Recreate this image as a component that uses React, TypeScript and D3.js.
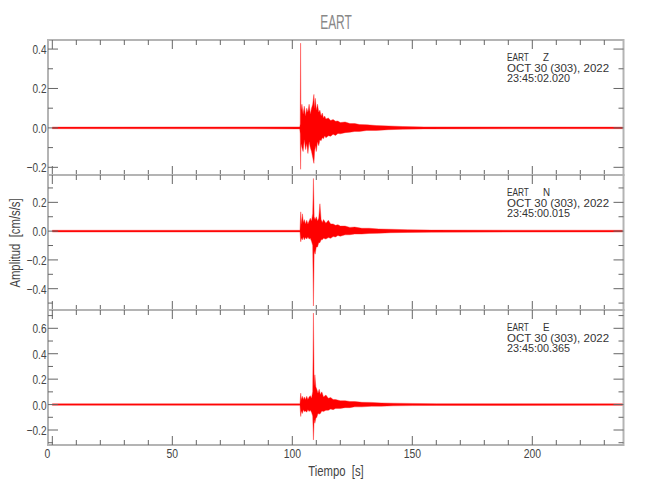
import React from "react";
import * as d3 from "d3";

// ---- data ----
const title = "EART";
const station = "EART";
const components = ["Z", "N", "E"];
const dateLabel = "OCT 30 (303), 2022";
const startTimes = ["23:45:02.020", "23:45:00.015", "23:45:00.365"];
const xTicks = d3.range(0, 231, 10);
const xMajor = [0, 50, 100, 150, 200];
const yDomains: [number, number][] = [
  [-0.239, 0.446],
  [-0.548, 0.39],
  [-0.318, 0.744],
];
const xDomain: [number, number] = [-1.8, 238];

// envelopes: [time s, upper amplitude, lower amplitude]
const zEnvelope: [number, number, number][] = [
  [0, 0.004, -0.004], [103.1, 0.005, -0.005], [103.3, 0.02, -0.03], [103.45, 0.43, -0.21],
  [103.6, 0.09, -0.08], [104.0, 0.12, -0.1], [104.5, 0.07, -0.12], [105.0, 0.11, -0.06],
  [105.5, 0.06, -0.11], [106.0, 0.1, -0.08], [106.5, 0.08, -0.13], [107.0, 0.12, -0.07],
  [107.5, 0.07, -0.1], [108.0, 0.1, -0.12], [108.5, 0.12, -0.15], [109.0, 0.17, -0.18],
  [109.3, 0.1, -0.12], [109.6, 0.15, -0.09], [110.0, 0.09, -0.12], [110.5, 0.12, -0.07],
  [111.0, 0.08, -0.09], [111.5, 0.09, -0.06], [112.0, 0.06, -0.065], [112.5, 0.075, -0.05],
  [113.0, 0.05, -0.055], [113.5, 0.06, -0.04], [114.0, 0.045, -0.05], [115.0, 0.05, -0.04],
  [116.0, 0.038, -0.042], [117.0, 0.042, -0.032], [118.0, 0.034, -0.038], [119.0, 0.035, -0.028],
  [120.0, 0.027, -0.03], [122.0, 0.03, -0.024], [124.0, 0.022, -0.022], [126.0, 0.022, -0.018],
  [128.0, 0.017, -0.018], [131.0, 0.016, -0.013], [135.0, 0.012, -0.013], [140.0, 0.01, -0.009],
  [146.0, 0.007, -0.007], [155.0, 0.005, -0.005], [238, 0.004, -0.004],
];
const nEnvelope: [number, number, number][] = [
  [0, 0.006, -0.006], [103.2, 0.006, -0.006], [103.5, 0.134, -0.074], [103.8, 0.05, -0.05],
  [104.2, 0.12, -0.06], [104.6, 0.06, -0.04], [105.0, 0.08, -0.06], [105.5, 0.05, -0.045],
  [106.0, 0.075, -0.055], [106.5, 0.05, -0.04], [107.0, 0.07, -0.055], [107.5, 0.09, -0.05],
  [108.0, 0.07, -0.07], [108.5, 0.12, -0.1], [108.8, 0.366, -0.52], [109.1, 0.1, -0.14],
  [109.5, 0.08, -0.16], [110.0, 0.1, -0.11], [110.5, 0.07, -0.11], [111.0, 0.09, -0.08],
  [111.5, 0.19, -0.08], [112.0, 0.08, -0.06], [112.5, 0.06, -0.06], [113.0, 0.08, -0.05],
  [114.0, 0.055, -0.055], [115.0, 0.075, -0.045], [116.0, 0.05, -0.05], [117.0, 0.05, -0.038],
  [118.0, 0.04, -0.04], [119.0, 0.045, -0.03], [120.0, 0.035, -0.035], [122.0, 0.035, -0.026],
  [124.0, 0.026, -0.025], [126.0, 0.028, -0.02], [129.0, 0.02, -0.02], [132.0, 0.02, -0.016],
  [136.0, 0.015, -0.015], [141.0, 0.013, -0.011], [148.0, 0.01, -0.009], [158.0, 0.007, -0.007],
  [238, 0.006, -0.006],
];
const eEnvelope: [number, number, number][] = [
  [0, 0.006, -0.006], [103.2, 0.006, -0.006], [103.5, 0.09, -0.094], [103.8, 0.04, -0.05],
  [104.2, 0.065, -0.07], [104.6, 0.04, -0.04], [105.0, 0.06, -0.055], [105.5, 0.04, -0.05],
  [106.0, 0.065, -0.06], [106.5, 0.04, -0.04], [107.0, 0.06, -0.055], [107.5, 0.07, -0.045],
  [108.0, 0.05, -0.06], [108.5, 0.1, -0.09], [108.8, 0.72, -0.278], [109.1, 0.15, -0.12],
  [109.4, 0.234, -0.147], [109.8, 0.14, -0.11], [110.2, 0.12, -0.1], [110.7, 0.09, -0.07],
  [111.2, 0.12, -0.075], [111.7, 0.08, -0.07], [112.3, 0.1, -0.05], [113.0, 0.06, -0.055],
  [114.0, 0.075, -0.045], [115.0, 0.05, -0.045], [116.0, 0.055, -0.035], [117.0, 0.04, -0.04],
  [118.0, 0.04, -0.03], [120.0, 0.03, -0.03], [122.0, 0.03, -0.024], [124.0, 0.024, -0.024],
  [126.0, 0.024, -0.018], [129.0, 0.018, -0.018], [133.0, 0.017, -0.013], [137.0, 0.013, -0.013],
  [142.0, 0.011, -0.01], [150.0, 0.009, -0.008], [160.0, 0.007, -0.007], [238, 0.006, -0.006],
];
const envelopes = [zEnvelope, nEnvelope, eEnvelope];

// ---- layout ----
const W = 650;
const H = 500;
const left = 48;
const right = 623.5;
const panelTop = 40;
const panelH = 135;
const FONT = "'Liberation Sans', Arial, sans-serif";

function T({ x, y, s, size, sx = 0.75, anchor = "start", color = "#444", rotate = 0 }: any) {
  return (
    <g transform={`translate(${x},${y}) rotate(${rotate}) scale(${sx},1)`}>
      <text fontFamily={FONT} fontSize={size} fill={color} textAnchor={anchor} style={{ whiteSpace: "pre" }}>
        {s}
      </text>
    </g>
  );
}

export default function App() {
  const x = d3.scaleLinear().domain(xDomain).range([left, right]);
  const frame = "#b4b4b4";
  const tickC = "#666";

  return (
    <svg width={W} height={H} style={{ position: "absolute", left: 0, top: 0, background: "#fff" }}>
      <rect width={W} height={H} fill="#fff" />
      <T x={336} y={29} s={title} size={21} sx={0.57} anchor="middle" color="#888" />
      {envelopes.map((env, i) => {
        const top = panelTop + i * panelH;
        const bottom = top + panelH;
        const y = d3.scaleLinear().domain(yDomains[i]).range([bottom, top]);
        const area = d3
          .area<[number, number, number]>()
          .x((d) => x(d[0]))
          .y0((d) => y(d[2]))
          .y1((d) => y(d[1]));
        const [y0, y1] = yDomains[i];
        const yMinor = d3.range(Math.ceil(y0 * 10), Math.floor(y1 * 10) + 1).map((v) => v / 10);
        return (
          <g key={i}>
            <path d={area(env) || ""} fill="#ff0000" stroke="#ff2020" strokeWidth={0.4} />
            {/* frame */}
            <rect x={left} y={top} width={right - left} height={panelH} fill="none" stroke={frame} strokeWidth={2} />
            {/* x ticks top and bottom */}
            {xTicks.map((t) => {
              const len = xMajor.includes(t) ? 9 : 5;
              return (
                <g key={t}>
                  <line x1={x(t)} x2={x(t)} y1={top} y2={top + len} stroke={tickC} strokeWidth={1} />
                  <line x1={x(t)} x2={x(t)} y1={bottom} y2={bottom - len} stroke={tickC} strokeWidth={1} />
                </g>
              );
            })}
            {/* y ticks left and right */}
            {yMinor.map((v) => {
              const major = Math.round(v * 10) % 2 === 0;
              const len = major ? 10 : 5;
              return (
                <g key={v}>
                  <line x1={left} x2={left + len} y1={y(v)} y2={y(v)} stroke={tickC} strokeWidth={1} />
                  <line x1={right} x2={right - len} y1={y(v)} y2={y(v)} stroke={tickC} strokeWidth={1} />
                  {major && (
                    <T
                      x={46.5}
                      y={y(v) + 5}
                      s={v < 0 ? `\u2212${Math.abs(v).toFixed(1)}` : v.toFixed(1)}
                      size={13.5}
                      sx={0.745}
                      anchor="end"
                    />
                  )}
                </g>
              );
            })}
            {/* annotation */}
            <T x={507} y={top + 20.7} s={station} size={11.5} sx={0.72} color="#333" />
            <T x={543} y={top + 20.7} s={components[i]} size={11.5} sx={0.85} color="#333" />
            <T x={507} y={top + 31.5} s={dateLabel} size={11.5} sx={1.0} color="#333" />
            <T x={507} y={top + 42.3} s={startTimes[i]} size={11.5} sx={0.94} color="#333" />
          </g>
        );
      })}
      {/* x tick labels */}
      {xMajor.map((t) => (
        <T key={t} x={x(t) - (t === 0 ? 5 : 0)} y={458} s={String(t)} size={13.5} sx={0.77} anchor="middle" />
      ))}
      <T x={336} y={476} s="Tiempo  [s]" size={14.5} sx={0.78} anchor="middle" color="#444" />
      <T x={20} y={243} s="Amplitud  [cm/s/s]" size={14.5} sx={0.78} anchor="middle" color="#444" rotate={-90} />
    </svg>
  );
}
